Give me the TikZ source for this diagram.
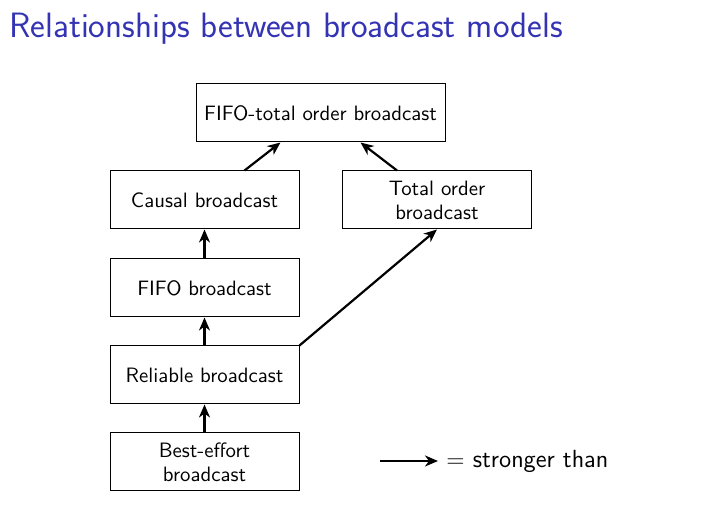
\documentclass[tikz,border=0pt]{standalone}
\usetikzlibrary{arrows.meta}
\definecolor{titleblue}{RGB}{51,51,179}
\begin{document}
\begin{tikzpicture}[x=0.5pt, y=-0.5pt,
    model/.style={draw, line width=0.5pt, minimum width=94.5pt, minimum height=29pt,
      inner sep=2pt, align=center, font=\sffamily\fontsize{10.4}{12}\selectfont},
    stronger/.style={-{Stealth[length=6.5pt, width=5.5pt, inset=2pt]}, line width=1.1pt}]
    \useasboundingbox (0,0) rectangle (709,522);

    % Draw the frame title
    \node[anchor=base west, inner sep=0, text=titleblue,
      font=\sffamily\fontsize{17.6}{21}\selectfont] (title) at (9,38)
      {Relationships between broadcast models};

    % Draw the broadcast models
    \node[model, minimum width=124.5pt] (fifototal) at (320.5,113) {FIFO-total order broadcast};
    \node[model] (causal) at (204.5,200) {Causal broadcast};
    \node[model] (total) at (437,200) {Total order\\broadcast};
    \node[model] (fifo) at (204.5,288) {FIFO broadcast};
    \node[model] (reliable) at (204.5,375) {Reliable broadcast};
    \node[model] (besteffort) at (204.5,462) {Best-effort\\broadcast};

    % Draw the arrows between the models
    \draw[stronger] (besteffort) -- (reliable);
    \draw[stronger] (reliable) -- (fifo);
    \draw[stronger] (fifo) -- (causal);
    \draw[stronger] ([xshift=20pt]causal.north) -- ([xshift=-20pt]fifototal.south);
    \draw[stronger] ([xshift=-20pt]total.north) -- ([xshift=20pt]fifototal.south);
    \draw[stronger] (reliable.north east) -- (total.south);

    % Draw the legend
    \coordinate (legstart) at (380,461);
    \node[anchor=base west, inner sep=0, font=\sffamily\fontsize{12.4}{14}\selectfont]
      (legend) at (446,468) {$=$ stronger than};
    \draw[stronger, shorten >=4pt] (legstart) -- (legstart -| legend.west);
\end{tikzpicture}
\end{document}
